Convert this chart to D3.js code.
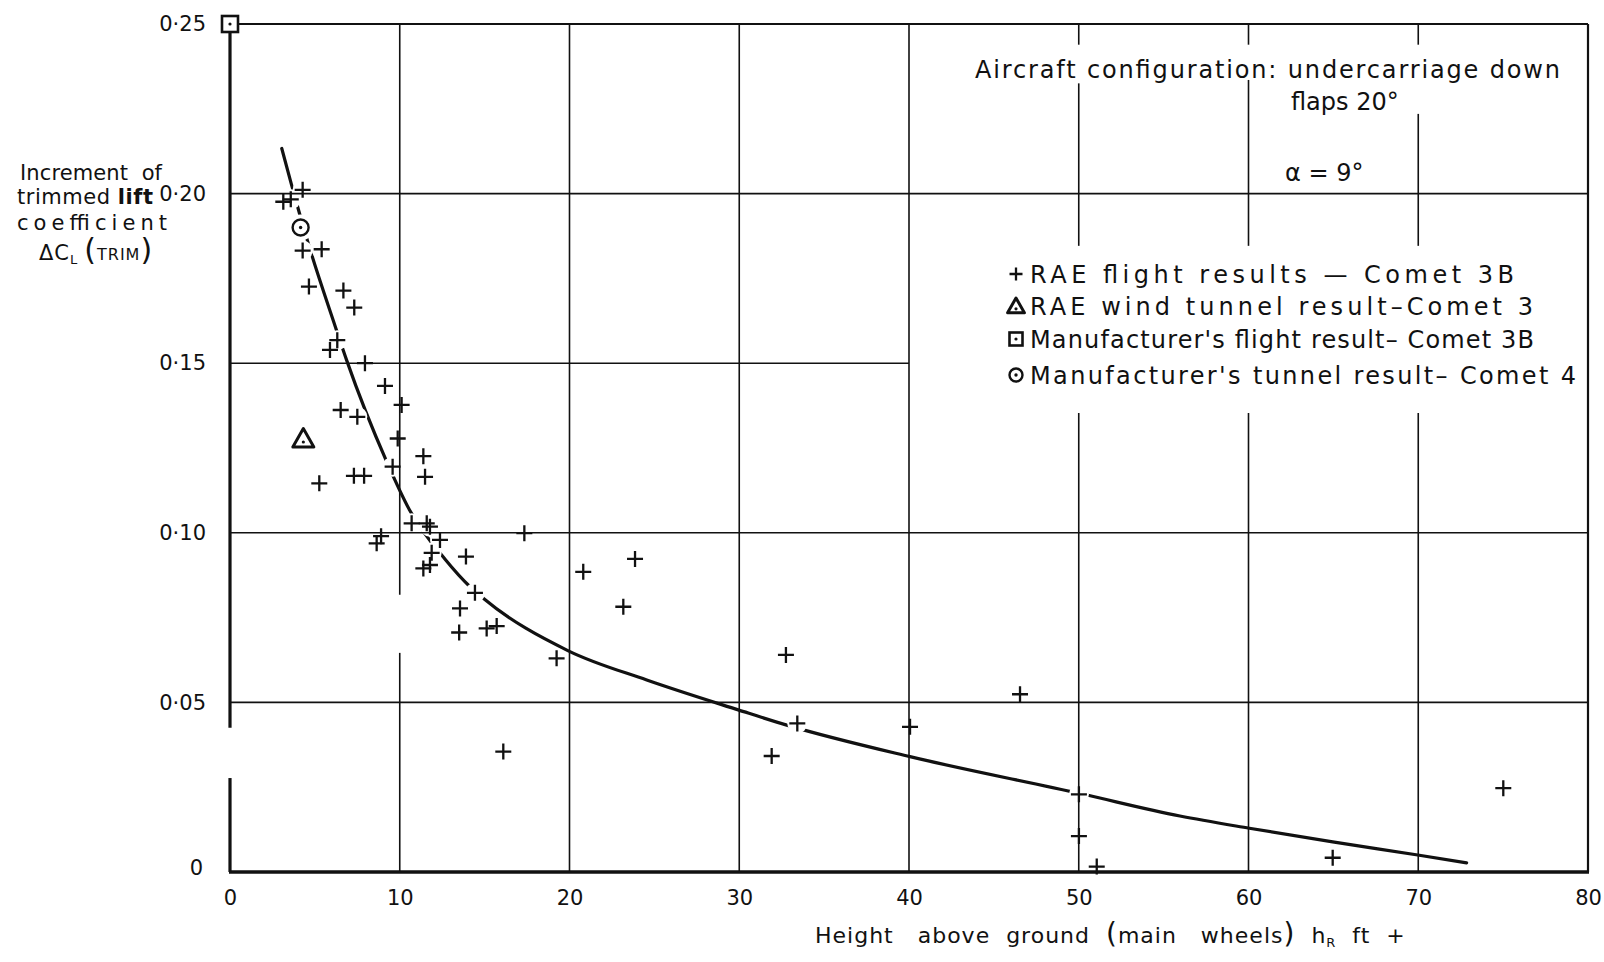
<!DOCTYPE html>
<html>
<head>
<meta charset="utf-8">
<script src="https://cdn.jsdelivr.net/npm/d3@7"></script>
<style>
  body { margin: 0; background: #fff; }
  text { font-family: "DejaVu Sans", sans-serif; fill: #111; }
</style>
</head>
<body>
<svg id="chart" width="1604" height="962"></svg>
<script>
// ---- data ----
// RAE flight results, Comet 3B  [height ft, delta CL]
const raeFlight = [
  [3.14, 0.1976], [3.58, 0.1983], [4.28, 0.2011], [4.28, 0.1832], [5.40, 0.1836],
  [4.65, 0.1726], [6.68, 0.1714], [7.32, 0.1664], [6.32, 0.1568], [5.89, 0.1539],
  [7.95, 0.1500], [9.13, 0.1433], [10.11, 0.1377], [6.52, 0.1362], [7.50, 0.1342],
  [9.88, 0.1278], [11.39, 0.1226], [9.58, 0.1195], [11.49, 0.1165], [7.30, 0.1168],
  [7.90, 0.1168], [5.26, 0.1146], [10.70, 0.1028], [11.59, 0.1028], [11.78, 0.1018],
  [8.90, 0.0990], [8.64, 0.0969], [12.37, 0.0979], [11.88, 0.0941], [11.39, 0.0895],
  [11.78, 0.0905], [13.90, 0.0930], [17.34, 0.0999], [14.43, 0.0823], [13.55, 0.0777],
  [13.50, 0.0706], [15.12, 0.0718], [15.71, 0.0725], [19.24, 0.0630], [20.81, 0.0885],
  [23.17, 0.0782], [23.86, 0.0923], [16.10, 0.0355], [32.75, 0.0640], [46.54, 0.0524],
  [33.42, 0.0438], [40.06, 0.0428], [31.91, 0.0342], [50.01, 0.0229], [50.01, 0.0106],
  [51.06, 0.0016], [64.96, 0.0042], [75.01, 0.0247]
];
const raeTunnel = [[4.32, 0.1278]];   // Comet 3
const mfrFlight = [[0, 0.25]];        // Comet 3B
const mfrTunnel = [[4.16, 0.190]];    // Comet 4

// faired mean curve
const meanCurve = [
  [3.05, 0.2133], [3.63, 0.2025], [4.12, 0.1937], [4.67, 0.1843], [6.19, 0.1610],
  [6.87, 0.1509], [9.23, 0.1210], [10.56, 0.1069], [12.67, 0.0922], [14.14, 0.0841],
  [14.92, 0.0807], [19.93, 0.0652], [24.55, 0.0566], [29.94, 0.0478], [32.80, 0.0433],
  [40.06, 0.0340], [50.02, 0.0232], [55.96, 0.0165], [60.05, 0.0129], [64.96, 0.0089],
  [69.97, 0.0050], [72.85, 0.0027]
];

const xTicks = [0, 10, 20, 30, 40, 50, 60, 70, 80];
const yTicks = [0, 0.05, 0.10, 0.15, 0.20, 0.25];
const yTickLabels = ["0", "0·05", "0·10", "0·15", "0·20", "0·25"];

// grid lines, with the breaks the draughtsman left round the lettering
const vGrid = [
  { x: 10, gaps: [[0.0646, 0.0817]] },
  { x: 20, gaps: [] },
  { x: 30, gaps: [] },
  { x: 40, gaps: [] },
  { x: 50, gaps: [[0.2325, 0.2439], [0.1353, 0.1846]] },
  { x: 60, gaps: [[0.2335, 0.2439], [0.1353, 0.1846]] },
  { x: 70, gaps: [[0.2235, 0.2439], [0.1353, 0.1846]] }
];
const hGrid = [
  { y: 0.05, to: 80 },
  { y: 0.10, to: 80 },
  { y: 0.15, to: 40 },
  { y: 0.20, to: 80 }
];
const yAxisGaps = [[0.0277, 0.0425]];

const noteLines = ["Aircraft configuration: undercarriage down", "flaps 20°", "α = 9°"];
const legendLabels = [
  "RAE flight results — Comet 3B",
  "RAE wind tunnel result–Comet 3",
  "Manufacturer's flight result– Comet 3B",
  "Manufacturer's tunnel result– Comet 4"
];

// ---- layout ----
const x = d3.scaleLinear().domain([0, 80]).range([230, 1588]);
const y = d3.scaleLinear().domain([0, 0.25]).range([872, 24]);

const svg = d3.select('#chart');

// gaps -> drawn segments
function segments(lo, hi, gaps) {
  let out = [], start = lo;
  gaps.slice().sort((a, b) => a[0] - b[0]).forEach(g => {
    out.push([start, g[0]]);
    start = g[1];
  });
  out.push([start, hi]);
  return out;
}

const grid = svg.append('g').attr('stroke', '#111').attr('stroke-width', 1.6);
vGrid.forEach(v => {
  segments(0, 0.25, v.gaps).forEach(s => {
    grid.append('line')
      .attr('x1', x(v.x)).attr('x2', x(v.x))
      .attr('y1', y(s[0])).attr('y2', y(s[1]));
  });
});
hGrid.forEach(h => {
  grid.append('line')
    .attr('x1', x(0)).attr('x2', x(h.to))
    .attr('y1', y(h.y)).attr('y2', y(h.y));
});

// frame
const frame = svg.append('g').attr('stroke', '#111').attr('fill', 'none');
frame.append('line').attr('x1', x(0)).attr('x2', x(80)).attr('y1', y(0.25)).attr('y2', y(0.25)).attr('stroke-width', 2);
frame.append('line').attr('x1', x(80)).attr('x2', x(80)).attr('y1', y(0.25)).attr('y2', y(0)).attr('stroke-width', 2.2);
frame.append('line').attr('x1', x(0) - 1).attr('x2', x(80) + 1).attr('y1', y(0)).attr('y2', y(0)).attr('stroke-width', 3.4);
segments(0, 0.25, yAxisGaps).forEach(s => {
  frame.append('line').attr('x1', x(0)).attr('x2', x(0))
    .attr('y1', y(s[0])).attr('y2', y(s[1])).attr('stroke-width', 3.2);
});

// axes (labels only)
const xAxis = svg.append('g')
  .attr('transform', `translate(0,${y(0)})`)
  .call(d3.axisBottom(x).tickValues(xTicks).tickSize(0).tickPadding(18).tickFormat(d3.format('d')));
const yAxis = svg.append('g')
  .attr('transform', `translate(${x(0)},0)`)
  .call(d3.axisLeft(y).tickValues(yTicks).tickSize(0).tickPadding(24)
    .tickFormat((d, i) => yTickLabels[i]));
[xAxis, yAxis].forEach(a => {
  a.select('.domain').remove();
  a.selectAll('text').style('font-size', '21px').attr('fill', '#111');
});
yAxis.selectAll('.tick').filter(d => d === 0).select('text').attr('x', -27).attr('dy', '0.1em');

// mean curve, broken where it runs through the plotted symbols
const defs = svg.append('defs');
const mask = defs.append('mask').attr('id', 'curveGaps')
  .attr('maskUnits', 'userSpaceOnUse').attr('x', 0).attr('y', 0).attr('width', 1604).attr('height', 962);
mask.append('rect').attr('width', 1604).attr('height', 962).attr('fill', '#fff');
raeFlight.forEach(d => {
  mask.append('circle').attr('cx', x(d[0])).attr('cy', y(d[1])).attr('r', 10).attr('fill', '#000');
});
mfrTunnel.forEach(d => {
  mask.append('circle').attr('cx', x(d[0])).attr('cy', y(d[1])).attr('r', 13).attr('fill', '#000');
});

const line = d3.line().x(d => x(d[0])).y(d => y(d[1])).curve(d3.curveMonotoneX);
svg.append('path')
  .datum(meanCurve)
  .attr('d', line)
  .attr('fill', 'none')
  .attr('stroke', '#111')
  .attr('stroke-width', 3.2)
  .attr('stroke-linecap', 'round')
  .attr('mask', 'url(#curveGaps)');

// markers
function cross(sel, size) {
  sel.append('path').attr('d', `M${-size},0H${size}M0,${-size}V${size}`)
    .attr('stroke', '#111').attr('stroke-width', 2.3).attr('fill', 'none');
}
function triangle(sel, s) {
  sel.append('path').attr('d', `M0,${-s}L${s * 1.05},${s * 0.85}L${-s * 1.05},${s * 0.85}Z`)
    .attr('stroke', '#111').attr('stroke-width', 3).attr('fill', '#fff').attr('stroke-linejoin', 'round');
  sel.append('circle').attr('cy', s * 0.35).attr('r', 1.6).attr('fill', '#111');
}
function square(sel, s) {
  sel.append('rect').attr('x', -s).attr('y', -s).attr('width', 2 * s).attr('height', 2 * s)
    .attr('stroke', '#111').attr('stroke-width', 2.6).attr('fill', '#fff');
  sel.append('circle').attr('r', 1.6).attr('fill', '#111');
}
function ring(sel, r) {
  sel.append('circle').attr('r', r).attr('stroke', '#111').attr('stroke-width', 2.4).attr('fill', '#fff');
  sel.append('circle').attr('r', 1.7).attr('fill', '#111');
}

const pts = svg.append('g');
pts.selectAll('g.rae').data(raeFlight).join('g').attr('class', 'rae')
  .attr('transform', d => `translate(${x(d[0])},${y(d[1])})`)
  .each(function() { cross(d3.select(this), 8); });
pts.selectAll('g.tun').data(raeTunnel).join('g').attr('class', 'tun')
  .attr('transform', d => `translate(${x(d[0])},${y(d[1])})`)
  .each(function() { triangle(d3.select(this), 10); });
pts.selectAll('g.mfl').data(mfrFlight).join('g').attr('class', 'mfl')
  .attr('transform', d => `translate(${x(d[0])},${y(d[1])})`)
  .each(function() { square(d3.select(this), 8); });
pts.selectAll('g.mtn').data(mfrTunnel).join('g').attr('class', 'mtn')
  .attr('transform', d => `translate(${x(d[0])},${y(d[1])})`)
  .each(function() { ring(d3.select(this), 8); });

// axis titles
const yTitle = svg.append('g').style('font-size', '21px');
yTitle.append('text').attr('x', 20).attr('y', 180).attr('textLength', 142).attr('lengthAdjust', 'spacing')
  .attr('xml:space', 'preserve').text('Increment  of');
const t2 = yTitle.append('text').attr('x', 17).attr('y', 204).attr('textLength', 136).attr('lengthAdjust', 'spacing');
t2.append('tspan').text('trimmed ');
t2.append('tspan').attr('font-weight', 'bold').text('lift');
yTitle.append('text').attr('x', 17).attr('y', 230).attr('textLength', 150).attr('lengthAdjust', 'spacing').text('coefficient');
const t4 = yTitle.append('text').attr('x', 39).attr('y', 260).style('letter-spacing', '1px');
t4.append('tspan').text('ΔC');
t4.append('tspan').attr('dy', 4).style('font-size', '13px').text('L');
t4.append('tspan').attr('dy', -4).attr('dx', 6).style('font-size', '30px').text('(');
t4.append('tspan').style('font-size', '16px').text('TRIM');
t4.append('tspan').style('font-size', '30px').text(')');

const xTitle = svg.append('text').attr('x', 815).attr('y', 943)
  .style('font-size', '22px').style('letter-spacing', '1px').attr('xml:space', 'preserve');
xTitle.append('tspan').text('Height   above  ground  ');
xTitle.append('tspan').style('font-size', '28px').text('(');
xTitle.append('tspan').text('main   wheels');
xTitle.append('tspan').style('font-size', '28px').text(')');
xTitle.append('tspan').text('  h');
xTitle.append('tspan').attr('dy', 4).style('font-size', '13px').text('R');
xTitle.append('tspan').attr('dy', -4).text('  ft  +');

// configuration note
const note = svg.append('g').style('font-size', '24px');
note.append('text').attr('x', 975).attr('y', 78).attr('textLength', 585).attr('lengthAdjust', 'spacing').text(noteLines[0]);
note.append('text').attr('x', 1291).attr('y', 110).text(noteLines[1]);
note.append('text').attr('x', 1285).attr('y', 181).text(noteLines[2]);

// legend
const legendWidths = [484, 503, 504, 546];
const legend = svg.append('g').attr('transform', 'translate(1016,274)');
const legendRows = legend.selectAll('g').data(legendLabels).join('g')
  .attr('transform', (d, i) => `translate(0,${[0, 32, 65, 101][i]})`);
legendRows.append('text').attr('x', 14).attr('dy', '0.36em')
  .attr('textLength', (d, i) => legendWidths[i]).attr('lengthAdjust', 'spacing')
  .style('font-size', '24px').text(d => d);
legendRows.each(function(d, i) {
  const g = d3.select(this);
  if (i === 0) cross(g, 6.5);
  if (i === 1) triangle(g, 8);
  if (i === 2) square(g, 6.5);
  if (i === 3) ring(g, 6.5);
});
</script>
</body>
</html>
